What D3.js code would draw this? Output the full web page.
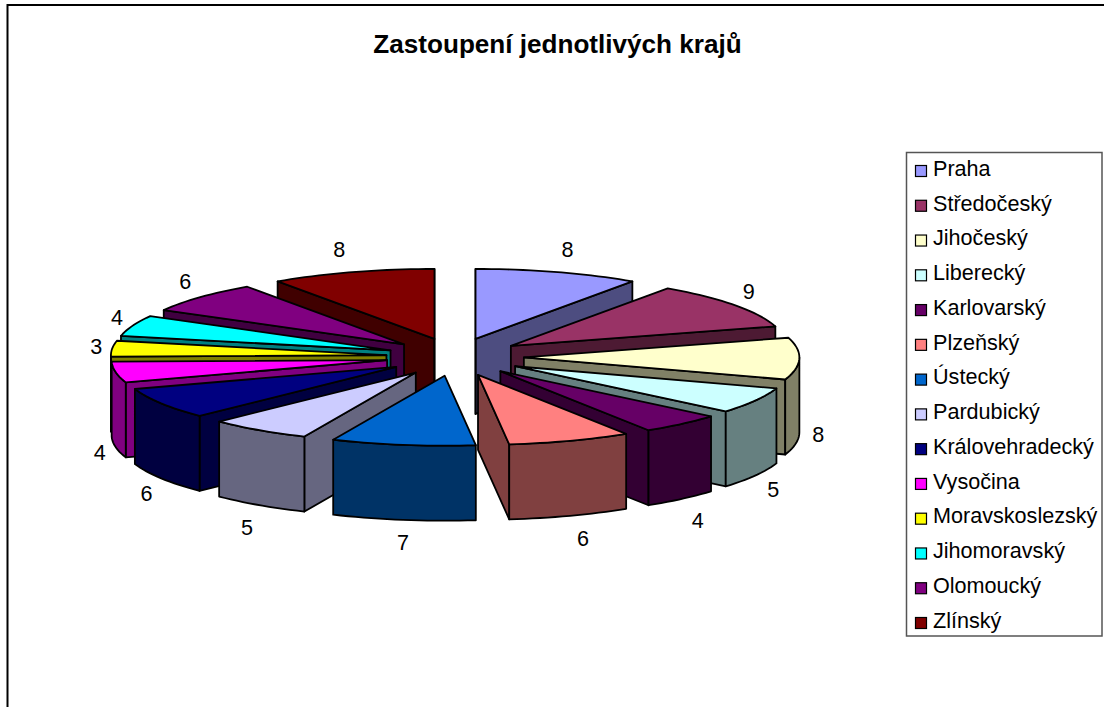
<!DOCTYPE html>
<html>
<head>
<meta charset="utf-8">
<script src="https://cdn.jsdelivr.net/npm/d3@7/dist/d3.min.js"></script>
<style>
html,body{margin:0;padding:0;background:#fff;overflow:hidden}
svg{display:block}
text{font-family:"Liberation Sans",Arial,sans-serif;fill:#000}
</style>
</head>
<body>
<svg id="chart" width="1104" height="707"></svg>
<script>
const title = "Zastoupení jednotlivých krajů";
const regions = ["Praha","Středočeský","Jihočeský","Liberecký","Karlovarský","Plzeňský","Ústecký","Pardubický","Královehradecký","Vysočina","Moravskoslezský","Jihomoravský","Olomoucký","Zlínský"];
const values = [8,9,8,5,4,6,7,5,6,4,3,4,6,8];
const topColors = ["#9999FF","#993366","#FFFFCC","#CCFFFF","#660066","#FF8080","#0066CC","#CCCCFF","#000080","#FF00FF","#FFFF00","#00FFFF","#800080","#800000"];
const sideColors = ["#4D4D80","#4D1A33","#808066","#668080","#330033","#804040","#003366","#666680","#000040","#800080","#808000","#008080","#400040","#400000"];

const svg = d3.select("#chart");
const W = 1104, H = 707;

// Frame (runs off the right and bottom of the window)
svg.append("path").attr("d", `M7.5,${H+5}V5H${W+5}`).attr("fill","none").attr("stroke","#000").attr("stroke-width",2);

svg.append("text").attr("x",557.5).attr("y",52.5).attr("text-anchor","middle")
  .attr("font-size",26.1).attr("font-weight","bold").text(title);

// Pie projection: unit circle -> flattened ellipse
const cx = 455, cy = 357, rx = 275.5, ry = 70, depth = 75, explodeX = 0.25, explodeY = 0.27;
const px = d3.scaleLinear().domain([-1,1]).range([cx-rx, cx+rx]);
const py = d3.scaleLinear().domain([-1,1]).range([cy-ry, cy+ry]);
const pie = d3.pie().sort(null).value(d => d)(values);

const slices = pie.map((p,i) => {
  const mid = (p.startAngle+p.endAngle)/2;
  return {i, a0:p.startAngle, a1:p.endAngle, mid, ox:explodeX*Math.sin(mid), oy:-explodeY*Math.cos(mid)};
});
const pt = (s,a,r=1,dz=0) => [px(s.ox + r*Math.sin(a)), py(s.oy - r*Math.cos(a)) + dz];
const arcPts = (s,a0,a1,dz=0) => {
  const n = Math.max(2, Math.ceil((a1-a0)/0.03));
  return d3.range(n+1).map(k => pt(s, a0+(a1-a0)*k/n, 1, dz));
};
const line = d3.line();
const closed = pts => line(pts)+"Z";

const order = slices.slice().sort((a,b) => Math.cos(b.mid)-Math.cos(a.mid));
const g = svg.append("g").attr("stroke","#000").attr("stroke-width",1.8).attr("stroke-linejoin","round");

order.forEach(s => {
  const side = sideColors[s.i], top = topColors[s.i];
  const face = a => closed([pt(s,0,0), pt(s,a), pt(s,a,1,depth), pt(s,0,0,depth)]);
  if (Math.sin(s.a0) < -1e-6) g.append("path").attr("d",face(s.a0)).attr("fill",side);
  if (Math.sin(s.a1) > 1e-6) g.append("path").attr("d",face(s.a1)).attr("fill",side);
  // Also the vertical edge faces at exactly 0 / 2π
  if (s.i === 0) g.append("path").attr("d",face(s.a0)).attr("fill",side);
  if (s.i === values.length-1) g.append("path").attr("d",face(s.a1)).attr("fill",side);
  // Outer wall: only the front half of the rim
  const w0 = Math.max(s.a0, Math.PI/2), w1 = Math.min(s.a1, 3*Math.PI/2);
  if (w1 > w0) {
    g.append("path").attr("d",closed(arcPts(s,w0,w1).concat(arcPts(s,w0,w1,depth).reverse()))).attr("fill",side);
  }
  g.append("path").attr("d",closed([pt(s,0,0)].concat(arcPts(s,s.a0,s.a1)))).attr("fill",top);
});

// Value labels: pushed outward from the rim, below the wall on the front half
const backDx = d3.scaleLinear().domain([-1,-0.3,0.3,1]).range([-16,-13,10,16]);
const frontDx = d3.scaleLinear().domain([-1,-0.57,-0.15,0.33,1]).range([-16,-12,0,13,19]);
slices.forEach(s => {
  const sn = Math.sin(s.mid), cs = Math.cos(s.mid);
  const [x,y] = pt(s,s.mid);
  const dx = cs < 0 ? frontDx(sn) : backDx(sn);
  const dy = cs < 0 ? depth + Math.min(22, -29*cs) : -24*cs;
  svg.append("text").attr("x",x+dx).attr("y",y+dy).attr("dy","0.36em").attr("text-anchor","middle")
    .attr("font-size",21.6).text(values[s.i]);
});

// Legend
const legendY = d3.scalePoint().domain(regions).range([168,620]);
svg.append("rect").attr("x",906.5).attr("y",152.5).attr("width",195.5).attr("height",483.5)
  .attr("fill","#fff").attr("stroke","#555").attr("stroke-width",1.5);
const leg = svg.append("g").selectAll("g").data(regions).join("g")
  .attr("transform", d => `translate(0,${legendY(d)})`);
leg.append("rect").attr("x",915.5).attr("y",-2.5).attr("width",11).attr("height",11)
  .attr("fill",(d,i)=>topColors[i]).attr("stroke","#000").attr("stroke-width",1.2);
leg.append("text").attr("x",933).attr("y",0).attr("dy","0.36em").attr("font-size",21.6).text(d=>d);
</script>
</body>
</html>
